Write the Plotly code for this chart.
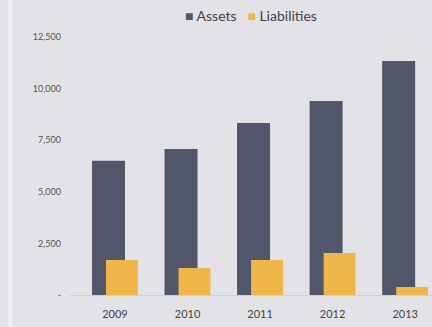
import plotly.graph_objects as go

# Balance sheet totals by year
years = ["2009", "2010", "2011", "2012", "2013"]
assets = [6500, 7070, 8330, 9400, 11340]
liabilities = [1700, 1310, 1700, 2030, 390]

y_tick_values = [0, 2500, 5000, 7500, 10000, 12500]
y_tick_labels = ["-", "2,500", "5,000", "7,500", "10,000", "12,500"]

BG = "#e3e3e7"
ASSET_COLOR = "#51566a"
LIAB_COLOR = "#efb64c"
TEXT_COLOR = "#555555"

fig = go.Figure()
fig.add_trace(go.Bar(
    name="Assets", x=years, y=assets,
    marker=dict(color=ASSET_COLOR, line=dict(width=0)),
    width=0.455, offset=-0.317,
))
fig.add_trace(go.Bar(
    name="Liabilities", x=years, y=liabilities,
    marker=dict(color=LIAB_COLOR, line=dict(width=0)),
    width=0.44, offset=-0.124,
))

fig.update_layout(
    width=432, height=327,
    margin=dict(l=70, r=0, t=37, b=32),
    paper_bgcolor=BG, plot_bgcolor=BG,
    barmode="overlay",
    font=dict(family="Lato, 'Open Sans', sans-serif", color=TEXT_COLOR, size=10),
    showlegend=False,
    xaxis=dict(
        type="category", range=[-0.62, 4.37],
        showgrid=False, zeroline=False,
        showline=True, linecolor="#cfcfd4", linewidth=1,
        ticks="", tickfont=dict(size=11, color="#444444"),
        ticklabelstandoff=9,
        fixedrange=True,
    ),
    yaxis=dict(
        range=[0, 12500],
        tickvals=y_tick_values, ticktext=y_tick_labels,
        showgrid=False, zeroline=False, showline=False,
        ticks="", tickfont=dict(size=9, color=TEXT_COLOR),
        ticklabelstandoff=8,
        fixedrange=True,
    ),
)

# compact legend line centred above the bars
legend_text = (
    f"<span style='color:{ASSET_COLOR}'>■</span> Assets   "
    f"<span style='color:{LIAB_COLOR}'>■</span> Liabilities"
)
fig.add_annotation(
    text=legend_text, xref="paper", yref="paper",
    x=0.5, y=1.085, xanchor="center", yanchor="middle",
    showarrow=False, font=dict(size=14, color="#444444"),
)

# faint vertical border stripe along the left edge
fig.add_shape(
    type="line", xref="paper", yref="paper",
    x0=-0.165, x1=-0.165, y0=-0.13, y1=1.15,
    line=dict(color="#f0f0f3", width=3),
)

fig.write_html("out.html")
